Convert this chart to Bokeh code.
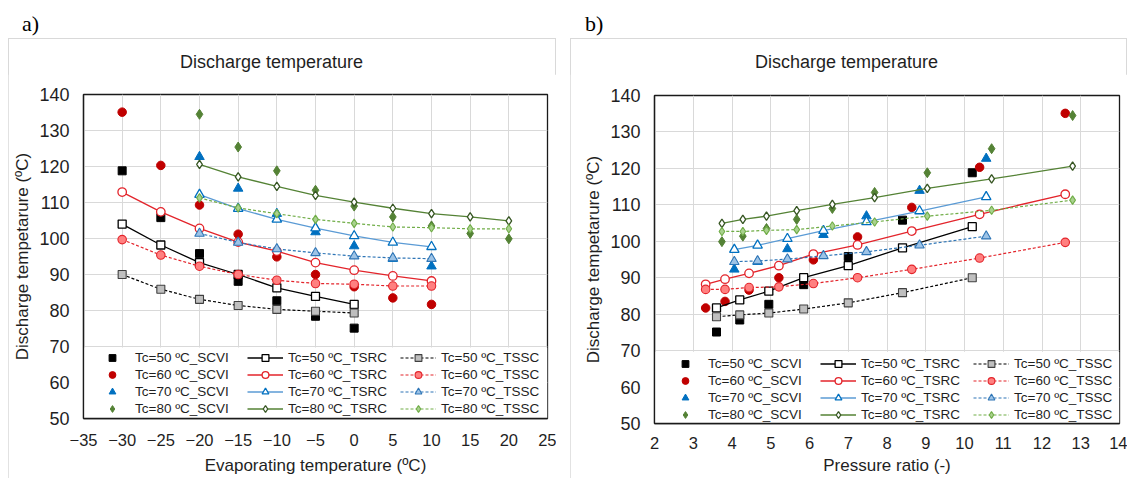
from bokeh.plotting import figure
from bokeh.models import Range1d, Legend, LegendItem, BoxAnnotation, Div
from bokeh.layouts import row, column
from bokeh.embed import file_html
from bokeh.resources import INLINE

FONT = "Liberation Sans"
TXT = "#1f1f1f"

# ---------------- data ----------------
tc_list = [50, 60, 70, 80]

# evaporating temperature (x of panel a)
te_50 = [-30, -25, -20, -15, -10, -5, 0]
te_60 = [-30, -25, -20, -15, -10, -5, 0, 5, 10]
te_70 = [-20, -15, -10, -5, 0, 5, 10]
te_80 = [-20, -15, -10, -5, 0, 5, 10, 15, 20]

# pressure ratio (x of panel b)
pr_50 = [10.2, 8.4, 7.0, 5.85, 4.95, 4.2, 3.6]
pr_60 = [12.6, 10.39, 8.64, 7.24, 6.10, 5.21, 4.44, 3.82, 3.32]
pr_70 = [10.56, 8.84, 7.47, 6.36, 5.43, 4.66, 4.06]
pr_80 = [12.79, 10.7, 9.04, 7.68, 6.59, 5.67, 4.89, 4.28, 3.74]

# discharge temperature
scvi_50 = [118.8, 105.8, 95.8, 88.1, 82.7, 78.4, 75.1]
scvi_60 = [135.1, 120.3, 109.3, 101.2, 94.9, 90.0, 86.6, 83.5, 81.7]
scvi_70 = [122.7, 113.9, 106.9, 101.8, 97.9, 94.4, 92.3]
scvi_80 = [134.5, 125.4, 118.8, 113.4, 109.0, 106.0, 103.5, 101.4, 99.9]

tsrc_50 = [104.0, 98.2, 93.3, 90.0, 86.3, 83.9, 81.7]
tsrc_60 = [112.9, 107.4, 102.8, 99.0, 96.5, 93.3, 91.2, 89.6, 88.2]
tsrc_70 = [112.2, 108.3, 105.3, 102.9, 100.7, 98.9, 97.7]
tsrc_80 = [120.6, 117.1, 114.5, 112.0, 110.1, 108.4, 106.9, 106.0, 104.9]

tssc_50 = [90.0, 85.9, 83.1, 81.4, 80.3, 79.8, 79.3]
tssc_60 = [99.7, 95.4, 92.3, 90.0, 88.4, 87.5, 87.3, 86.8, 86.8]
tssc_70 = [101.4, 98.9, 97.1, 96.0, 95.1, 94.6, 94.4]
tssc_80 = [111.3, 108.5, 106.9, 105.3, 104.2, 103.2, 103.0, 102.7, 102.7]

x_ticks_a = [-35, -30, -25, -20, -15, -10, -5, 0, 5, 10, 15, 20, 25]
x_ticks_b = [2, 3, 4, 5, 6, 7, 8, 9, 10, 11, 12, 13, 14]
y_ticks = [50, 60, 70, 80, 90, 100, 110, 120, 130, 140]

te = {50: te_50, 60: te_60, 70: te_70, 80: te_80}
pr = {50: pr_50, 60: pr_60, 70: pr_70, 80: pr_80}
scvi = {50: scvi_50, 60: scvi_60, 70: scvi_70, 80: scvi_80}
tsrc = {50: tsrc_50, 60: tsrc_60, 70: tsrc_70, 80: tsrc_80}
tssc = {50: tssc_50, 60: tssc_60, 70: tssc_70, 80: tssc_80}

# ---------------- styles ----------------
markers = {50: "square", 60: "circle", 70: "triangle", 80: "diamond"}
msize = {50: 8, 60: 8.5, 70: 9.5, 80: 10}
scvi_color = {50: "#000000", 60: "#c00000", 70: "#0070c0", 80: "#548235"}
tsrc_line = {50: "#000000", 60: "#e3242b", 70: "#5b9bd5", 80: "#548235"}
tsrc_edge = {50: "#000000", 60: "#e3242b", 70: "#0070c0", 80: "#375623"}
tssc_line = {50: "#000000", 60: "#e3242b", 70: "#2e75b6", 80: "#70ad47"}
tssc_fill = {50: "#bfbfbf", 60: "#ff8080", 70: "#9dc3e6", 80: "#a9d18e"}
tssc_edge = {50: "#404040", 60: "#e3242b", 70: "#2e75b6", 80: "#70ad47"}

Y_START, Y_END = 50, 140
FRAME = "#1a1a1a"


def style_axis(ax, ticks):
    ax.ticker = ticks
    ax.axis_line_color = FRAME
    ax.axis_line_width = 1.3
    ax.major_tick_line_color = None
    ax.minor_tick_line_color = None
    ax.major_tick_out = 0
    ax.major_tick_in = 0
    ax.major_label_text_font = FONT
    ax.major_label_text_color = TXT
    ax.axis_label_text_font = FONT
    ax.axis_label_text_font_size = "17px"
    ax.axis_label_text_font_style = "normal"
    ax.axis_label_text_color = TXT


def make_panel(xs, x_start, x_end, x_ticks, x_label, width, height,
               bl, br, bt, bb, legend_loc, tick_standoff_x, label_standoff_x):
    p = figure(width=width, height=height,
               x_range=Range1d(x_start, x_end), y_range=Range1d(Y_START, Y_END),
               min_border_left=bl, min_border_right=br,
               min_border_top=bt, min_border_bottom=bb,
               output_backend="svg", toolbar_location=None, tools="")
    p.background_fill_color = "white"
    p.border_fill_color = "white"
    p.outline_line_color = FRAME
    p.outline_line_width = 1.3

    style_axis(p.xaxis[0], x_ticks)
    style_axis(p.yaxis[0], y_ticks)
    p.xaxis.major_label_text_font_size = "16.5px"
    p.yaxis.major_label_text_font_size = "18px"
    p.xaxis.major_label_standoff = tick_standoff_x
    p.yaxis.major_label_standoff = 14
    p.xaxis.axis_label = x_label
    p.yaxis.axis_label = "Discharge tempetarure (ºC)"
    p.xaxis.axis_label_standoff = label_standoff_x
    p.yaxis.axis_label_standoff = 4

    p.xgrid.grid_line_color = "#d9d9d9"
    p.ygrid.grid_line_color = "#d9d9d9"
    p.xgrid.grid_line_width = 1
    p.ygrid.grid_line_width = 1

    # white legend area (covers the gridlines under the legend)
    p.add_layout(BoxAnnotation(left=x_start, right=x_end, bottom=Y_START, top=69.7,
                               fill_color="white", fill_alpha=1.0,
                               line_color=None, level="underlay"))

    items_scvi, items_tsrc, items_tssc = [], [], []
    for tc in tc_list:
        r = p.scatter(xs[tc], scvi[tc], marker=markers[tc], size=msize[tc],
                      fill_color=scvi_color[tc], line_color=scvi_color[tc])
        items_scvi.append(LegendItem(label=f"Tc={tc} ºC_SCVI", renderers=[r]))
    for tc in tc_list:
        l = p.line(xs[tc], tsrc[tc], line_color=tsrc_line[tc], line_width=1.3)
        s = p.scatter(xs[tc], tsrc[tc], marker=markers[tc], size=msize[tc] - (1.5 if tc == 80 else 0),
                      fill_color="white", line_color=tsrc_edge[tc], line_width=1.3)
        items_tsrc.append(LegendItem(label=f"Tc={tc} ºC_TSRC", renderers=[l, s]))
    for tc in tc_list:
        l = p.line(xs[tc], tssc[tc], line_color=tssc_line[tc], line_width=1.2,
                   line_dash="3 2")
        s = p.scatter(xs[tc], tssc[tc], marker=markers[tc], size=msize[tc] - (1.5 if tc == 80 else 0),
                      fill_color=tssc_fill[tc], line_color=tssc_edge[tc], line_width=1.1)
        items_tssc.append(LegendItem(label=f"Tc={tc} ºC_TSSC", renderers=[l, s]))

    legend = Legend(items=items_scvi + items_tsrc + items_tssc,
                    location=legend_loc, orientation="vertical", nrows=4,
                    glyph_width=36, glyph_height=17, label_height=17,
                    label_width=112, label_standoff=5, spacing=0,
                    padding=0, margin=0,
                    label_text_font=FONT, label_text_font_size="13.5px",
                    label_text_color=TXT,
                    background_fill_alpha=0, border_line_color=None)
    p.add_layout(legend)
    return p


pa = make_panel(te, -35, 25, x_ticks_a, "Evaporating temperature (ºC)",
                width=548, height=404, bl=75, br=9, bt=20, bb=60,
                legend_loc=(11, 1), tick_standoff_x=15, label_standoff_x=7)
pb = make_panel(pr, 2, 14, x_ticks_b, "Pressure ratio (-)",
                width=557, height=404, bl=84, br=8, bt=21, bb=55,
                legend_loc=(13, 0), tick_standoff_x=13, label_standoff_x=4)


def label_div(text, w, pad_left):
    return Div(text=('<div style="font-family:\'Liberation Serif\';font-size:22px;'
                     f'line-height:26px;padding-left:{pad_left}px;padding-top:3px;'
                     f'color:#000;white-space:nowrap">{text}</div>'),
               width=w, height=30, margin=(0, 0, 0, 0))


def title_div(text, w, pad_left):
    return Div(text=(f'<div style="font-family:\'{FONT}\';font-size:18px;'
                     f'line-height:22px;padding-left:{pad_left}px;padding-top:13px;'
                     f'color:{TXT};white-space:nowrap">{text}</div>'),
               width=w, height=36, margin=(0, 0, 0, 0))


BOX = {"outline": "1px solid #d9d9d9", "outline-offset": "-1px"}
box_a = column(title_div("Discharge temperature", 548, 172), pa, spacing=0, styles=BOX)
box_b = column(title_div("Discharge temperature", 557, 185), pb, spacing=0, styles=BOX)

layout = row(column(label_div("a)", 548, 14), box_a, spacing=0),
             column(label_div("b)", 557, 15), box_b, spacing=0),
             spacing=14, margin=(8, 0, 0, 8))

open("out.html", "w").write(file_html(layout, INLINE))
